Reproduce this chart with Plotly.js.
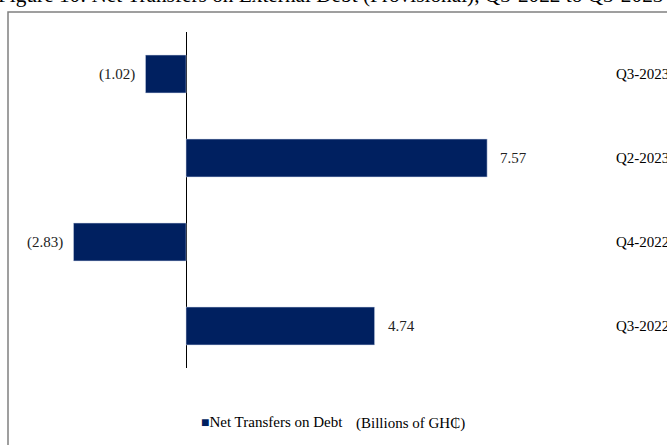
<!DOCTYPE html>
<html>
<head>
<meta charset="utf-8">
<script src="https://cdn.plot.ly/plotly-3.0.1.min.js"></script>
<style>html,body{margin:0;padding:0;background:#fff;}#chart{width:667px;height:445px;}</style>
</head>
<body>
<div id="chart"></div>
<script>
// Data
const categories = ["Q3-2023", "Q2-2023", "Q4-2022", "Q3-2022"];
const values = [-1.02, 7.57, -2.83, 4.74];
const seriesName = "Net Transfers on Debt";
const unitNote = "(Billions of GH\u20B5)";
const titleText = "Figure 10: Net Transfers on External Debt (Provisional), Q3-2022 to Q3-2023";

const fmt = v => v < 0 ? "(" + Math.abs(v).toFixed(2) + ")" : v.toFixed(2);

// Layout geometry (pixels)
const W = 667, H = 445;
const mL = 27, mR = 57, mT = 32, mB = 77;
const pw = W - mL - mR, ph = H - mT - mB;
const px2x = p => (p - mL) / pw;
const py2y = p => (H - mB - p) / ph;

const serif = "Liberation Serif, Times New Roman, serif";
const navy = "#002060";

const trace = {
  type: "bar",
  orientation: "h",
  x: values,
  y: categories,
  name: seriesName,
  width: 0.45,
  marker: {color: navy, line: {color: "#c9d3e6", width: 0.5}},
  hoverinfo: "none",
  showlegend: false
};

const valueAnnotations = values.map((v, i) => ({
  x: v, y: categories[i], xref: "x", yref: "y",
  text: fmt(v), showarrow: false,
  xanchor: v < 0 ? "right" : "left",
  xshift: v < 0 ? -9 : 11,
  font: {family: serif, size: 15, color: "#222"}
}));

const layout = {
  width: W, height: H,
  margin: {l: mL, r: mR, t: mT, b: mB},
  paper_bgcolor: "#fff",
  plot_bgcolor: "#fff",
  font: {family: serif, size: 15, color: "#000"},
  xaxis: {
    range: [-4, 10.66],
    showgrid: false, showticklabels: false, ticks: "",
    zeroline: true, zerolinecolor: "#000", zerolinewidth: 1,
    showline: false, fixedrange: true
  },
  yaxis: {
    type: "category",
    categoryorder: "array", categoryarray: categories,
    range: [3.5, -0.5],
    side: "right",
    showgrid: false, zeroline: false, showline: false, ticks: "",
    ticklabelstandoff: 5,
    tickfont: {family: serif, size: 15, color: "#000"},
    fixedrange: true
  },
  showlegend: false,
  shapes: [{
    type: "rect", xref: "paper", yref: "paper",
    x0: px2x(8), x1: px2x(700), y0: py2y(12), y1: py2y(470),
    line: {color: "#808080", width: 1.5}, fillcolor: "rgba(0,0,0,0)", layer: "below"
  }],
  annotations: valueAnnotations.concat([
    {
      xref: "paper", yref: "paper", x: px2x(199), y: py2y(422),
      xanchor: "left", yanchor: "middle", showarrow: false,
      text: '<span style="color:' + navy + ';font-size:14px">\u25A0</span>' + seriesName,
      font: {family: serif, size: 15, color: "#000"}
    },
    {
      xref: "paper", yref: "paper", x: px2x(354), y: py2y(423),
      xanchor: "left", yanchor: "middle", showarrow: false,
      text: unitNote, font: {family: serif, size: 15, color: "#000"}
    },
    {
      xref: "paper", yref: "paper", x: px2x(-4), y: py2y(9),
      xanchor: "left", yanchor: "bottom", showarrow: false,
      text: titleText, font: {family: serif, size: 21.3, color: "#000"}
    }
  ])
};

Plotly.newPlot("chart", [trace], layout, {displayModeBar: false, staticPlot: true});
</script>
</body>
</html>
